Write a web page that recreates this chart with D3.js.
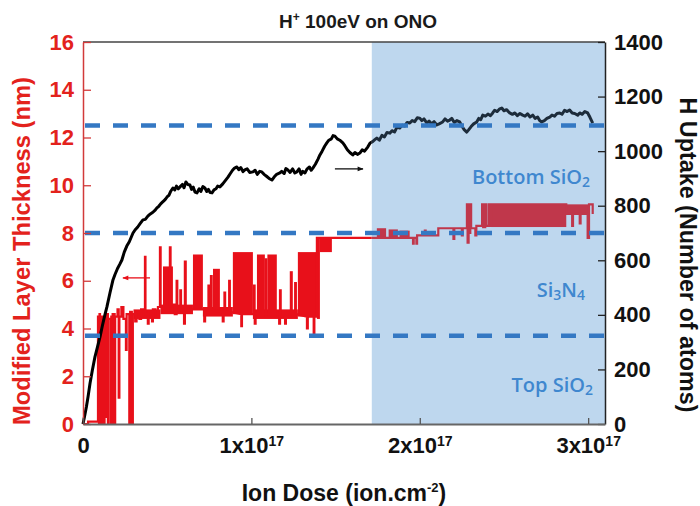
<!DOCTYPE html>
<html><head><meta charset="utf-8">
<script src="https://cdn.jsdelivr.net/npm/d3@7"></script>
<style>body{margin:0;background:#fff}svg{display:block}</style>
</head><body><svg id="c" width="700" height="506"></svg>
<script>
// ---------- data ----------
const doseTicks = [0, 1, 2, 3];                // x 10^17 ion/cm2
const thickTicks = [0, 2, 4, 6, 8, 10, 12, 14, 16]; // nm
const atomTicks = [0, 200, 400, 600, 800, 1000, 1200, 1400];
const layerBounds = [12.5, 8, 3.7];            // nm, dashed interfaces
const shadeStart = 1.715;                      // x 10^17

// H uptake (number of atoms) vs dose
const hUptake = [
[0,0],[0.01,30],[0.02,62],[0.03,100],[0.042,150],[0.055,195],[0.071,246],[0.085,280],[0.101,319],[0.115,360],[0.13,400],[0.142,429],[0.16,480],[0.178,528],[0.19,548],[0.205,570],[0.218,585],[0.231,601],[0.245,630],[0.26,652],[0.275,668],[0.297,700],[0.31,712],[0.325,722],[0.34,735],[0.356,748],[0.37,750],[0.385,762],[0.40,770],[0.415,776],[0.43,785],[0.439,792],[0.45,798],[0.46,806],[0.47,812],[0.48,818],[0.49,824],[0.499,832],[0.51,838],[0.52,852],[0.534,865],[0.545,858],[0.555,872],[0.566,862],[0.576,869],[0.59,878],[0.6,866],[0.611,887],[0.622,878],[0.635,876],[0.645,860],[0.655,868],[0.665,850],[0.677,847],[0.69,862],[0.70,852],[0.712,870],[0.724,865],[0.735,852],[0.745,860],[0.755,848],[0.766,847],[0.778,858],[0.79,862],[0.80,872],[0.813,869],[0.83,880],[0.845,892],[0.861,905],[0.875,918],[0.888,930],[0.9,938],[0.914,942],[0.925,932],[0.937,940],[0.95,925],[0.961,931],[0.975,935],[0.99,922],[1.009,924],[1.022,930],[1.035,915],[1.05,926],[1.062,924],[1.075,915],[1.09,908],[1.105,900],[1.122,894],[1.135,905],[1.15,915],[1.169,920],[1.18,926],[1.195,918],[1.205,936],[1.217,931],[1.23,922],[1.245,935],[1.258,920],[1.27,924],[1.283,935],[1.295,915],[1.305,926],[1.318,920],[1.33,934],[1.345,942],[1.355,930],[1.365,938],[1.38,952],[1.395,970],[1.407,986],[1.42,1000],[1.435,1018],[1.448,1030],[1.46,1040],[1.475,1045],[1.485,1057],[1.496,1055],[1.51,1045],[1.525,1040],[1.543,1030],[1.555,1020],[1.57,1005],[1.585,995],[1.602,986],[1.615,995],[1.63,988],[1.644,993],[1.658,1005],[1.672,1000],[1.691,1015],[1.705,1030],[1.72,1035],[1.733,1042],[1.745,1048],[1.76,1040],[1.775,1058],[1.79,1052],[1.805,1068],[1.822,1066],[1.835,1075],[1.85,1070],[1.865,1088],[1.881,1085],[1.895,1095],[1.91,1092],[1.925,1105],[1.941,1103],[1.955,1112],[1.97,1108],[1.985,1122],[2.0,1121],[2.012,1112],[2.025,1118],[2.042,1103],[2.055,1110],[2.07,1100],[2.085,1108],[2.101,1096],[2.115,1100],[2.136,1107],[2.15,1118],[2.165,1110],[2.178,1114],[2.19,1120],[2.205,1105],[2.22,1112],[2.237,1107],[2.25,1092],[2.262,1080],[2.279,1070],[2.29,1078],[2.305,1090],[2.32,1100],[2.338,1107],[2.35,1120],[2.362,1115],[2.374,1132],[2.39,1128],[2.405,1136],[2.42,1130],[2.433,1140],[2.445,1150],[2.46,1145],[2.475,1155],[2.487,1158],[2.5,1148],[2.515,1152],[2.534,1140],[2.55,1135],[2.565,1140],[2.58,1130],[2.595,1138],[2.611,1132],[2.625,1128],[2.64,1137],[2.655,1125],[2.671,1132],[2.685,1120],[2.7,1125],[2.712,1112],[2.724,1107],[2.74,1112],[2.755,1120],[2.772,1125],[2.785,1132],[2.8,1128],[2.815,1138],[2.831,1140],[2.845,1135],[2.86,1150],[2.875,1145],[2.89,1151],[2.905,1140],[2.92,1138],[2.938,1132],[2.95,1140],[2.965,1135],[2.98,1145],[2.997,1140],[3.01,1125],[3.027,1103]
];

// Modified layer thickness (nm) vs dose: step trace
const thickTrace = [
[0,0],[0.03,0],[0.03,0.1],[0.089,0.1],[0.089,4.5],[0.095,4.5],[0.095,0],[0.098,0],[0.098,4.6],[0.101,4.6],[0.101,0],[0.104,0],[0.104,4.5],[0.108,4.5],[0.108,0],[0.111,0],[0.111,4.5],[0.113,4.5],[0.113,0],[0.116,0],[0.116,4.4],[0.125,4.4],[0.125,0],[0.128,0],[0.128,4.5],[0.137,4.5],[0.137,0.3],[0.14,0.3],[0.14,4.6],[0.148,4.6],[0.148,0],[0.151,0],[0.151,4.4],[0.165,4.4],[0.165,0],[0.168,0],[0.168,4.5],[0.172,4.5],[0.172,0],[0.176,0],[0.176,4.6],[0.188,4.6],[0.188,0],[0.191,0],[0.191,4.5],[0.205,4.5],[0.205,4.8],[0.212,4.8],[0.212,1.1],[0.216,1.1],[0.216,4.5],[0.228,4.5],[0.228,4.9],[0.24,4.9],[0.24,4.4],[0.255,4.4],[0.255,3.1],[0.259,3.1],[0.259,4.6],[0.275,4.6],[0.275,0],[0.28,0],[0.28,4.7],[0.29,4.7],[0.29,0],[0.296,0],[0.296,4.6],
[0.31,4.6],[0.31,4.3],[0.318,4.3],[0.318,4.7],[0.335,4.7],[0.335,4.4],[0.345,4.4],[0.345,4.8],[0.368,4.8],[0.368,7.0],[0.371,7.0],[0.371,4.6],[0.385,4.6],[0.385,4.2],[0.39,4.2],[0.39,4.7],[0.41,4.7],[0.41,4.3],[0.415,4.3],[0.415,4.8],[0.43,4.8],[0.43,4.5],[0.445,4.5],[0.445,4.9],[0.457,4.9],[0.457,7.4],[0.461,7.4],[0.461,4.9],[0.516,4.9],[0.516,7.4],[0.52,7.4],[0.52,5.0],[0.545,5.0],[0.545,4.6],[0.556,4.6],[0.556,6.0],[0.56,6.0],[0.56,4.9],[0.578,4.9],[0.578,5.6],[0.582,5.6],[0.582,4.9],[0.6,4.9],[0.6,4.2],[0.605,4.2],[0.605,6.8],[0.61,6.8],[0.61,4.8],[0.72,4.8],[0.72,4.3],[0.725,4.3],[0.725,4.8],[0.745,4.8],[0.745,5.8],[0.749,5.8],[0.749,4.8],[0.76,4.8],[0.76,6.2],[0.764,6.2],[0.764,4.8],[0.813,4.7],[0.83,4.7],[0.83,4.3],[0.835,4.3],[0.835,4.7],[0.84,4.7],[0.84,5.5],[0.844,5.5],[0.844,4.7],[0.868,4.7],[0.868,6.0],[0.872,6.0],[0.872,4.7],[0.94,4.6],[0.94,4.1],[0.944,4.1],[0.944,4.6],[1.015,4.6],[1.015,5.8],[1.019,5.8],[1.019,4.6],[1.02,4.6],[1.02,4.2],[1.025,4.2],[1.025,4.6],[1.085,4.6],[1.085,6.9],[1.089,6.9],[1.089,4.6],[1.165,4.6],[1.165,4.2],[1.17,4.2],[1.17,5.6],[1.174,5.6],[1.174,4.5],[1.2,4.5],[1.2,4.2],[1.205,4.2],[1.205,4.6],[1.26,4.6],[1.26,5.9],[1.264,5.9],[1.264,4.6],[1.33,4.5],[1.33,4.0],[1.335,4.0],[1.335,4.5],[1.37,4.5],[1.37,3.8],[1.374,3.8],[1.374,4.5],[1.389,4.5],[1.389,7.8],[1.715,7.8],
[1.745,7.8],[1.94,7.8],[1.96,7.8],[1.96,7.55],[1.964,7.55],[1.964,7.8],[1.98,7.8],[1.98,7.55],[1.984,7.55],[1.984,7.9],[2.03,7.9],[2.03,8.1],[2.035,8.1],[2.035,7.9],[2.11,7.9],[2.11,8.2],[2.2,8.2],[2.2,7.75],[2.205,7.75],[2.205,8.2],[2.25,8.2],[2.25,7.9],[2.255,7.9],[2.255,8.2],[2.28,8.2],[2.28,9.2],[2.284,9.2],[2.284,7.6],[2.29,7.6],[2.29,9.2],[2.294,9.2],[2.294,8.0],[2.3,8.0],[2.3,9.2],[2.305,9.2],[2.305,8.2],[2.33,8.2],[2.33,7.9],[2.336,7.9],[2.336,8.3],[2.37,8.3],[2.37,9.2],[2.395,9.2],[2.395,8.3],[2.41,8.3],[2.41,9.2],[2.415,9.2],[2.415,8.3],[2.425,8.3],[2.425,9.2],[2.87,9.2],[2.87,8.8],[2.905,8.8],[2.905,8.3],[2.91,8.3],[2.91,8.8],[2.95,8.8],[2.95,8.4],[2.955,8.4],[2.955,8.8],[2.997,8.8],[2.997,7.8],[3.005,7.8],[3.005,9.2],[3.027,9.2],[3.027,8.8]
];
// dense toggling ranges: [dose0, dose1, low nm, high nm]
const thickBlocks = [
[0.089,0.099,0,4.5],[0.105,0.11,0,4.5],
[0.3,0.46,4.4,4.8],[0.46,0.653,4.6,5.0],[0.712,0.89,4.5,4.9],[1.009,1.276,4.4,4.8],
[0.475,0.534,4.9,6.6],[0.653,0.712,4.8,7.1],[0.772,0.813,4.8,6.5],[0.89,1.009,4.6,7.2],[1.033,1.08,4.5,7.1],[1.095,1.151,4.5,7.1],[1.228,1.246,4.6,6.4],[1.276,1.389,4.5,7.2],[1.389,1.407,4.4,7.8],[1.407,1.478,7.2,7.8],
[1.745,1.80,7.8,8.2],[1.815,1.87,7.8,8.15],[1.88,1.94,7.8,8.1],[2.37,2.395,8.2,9.2],[2.425,2.87,8.25,9.2],[2.87,3.0,8.8,9.2]
];
// annotation arrows: [dose from, dose to, value]
const arrowH = [1.496, 1.663, 935];   // points to right axis
const arrowT = [0.398, 0.237, 6.12];  // points to left axis

// ---------- chart ----------
const svg = d3.select('#c');
const M = {l:83, r:605, t:42, b:424};
const x = d3.scaleLinear().domain([0, 3.1]).range([M.l, M.r]);
const yL = d3.scaleLinear().domain([0, 16]).range([M.b, M.t]);
const yR = d3.scaleLinear().domain([0, 1400]).range([M.b, M.t]);
const AR = "'Liberation Sans', Arial, sans-serif";
const CAL = "'Open Sans', 'Noto Sans', sans-serif";
const RED = "#e8101a", RED2 = "#c0374b", BLK = "#000", BLK2 = "#1d2c3b";
const SHADE = "#bed7ee", DASH = "#3478c3", TXTB = "#3f87cf";

const defs = svg.append('defs');
defs.append('clipPath').attr('id','cA').append('rect')
  .attr('x', 0).attr('y', 0).attr('width', x(shadeStart)).attr('height', 506);
defs.append('clipPath').attr('id','cB').append('rect')
  .attr('x', x(shadeStart)).attr('y', 0).attr('width', 700 - x(shadeStart)).attr('height', 506);
const mk = (id, col) => defs.append('marker').attr('id', id)
  .attr('viewBox','0 0 10 10').attr('refX', 9).attr('refY', 5)
  .attr('markerWidth', 7).attr('markerHeight', 6).attr('orient', 'auto')
  .attr('markerUnits','userSpaceOnUse')
  .append('path').attr('d','M0,1 L10,5 L0,9 Z').attr('fill', col);
mk('mB', '#111'); mk('mR', RED);

// shaded region
svg.append('rect').attr('x', x(shadeStart)).attr('y', M.t)
  .attr('width', M.r - x(shadeStart)).attr('height', M.b - M.t).attr('fill', SHADE);

const lineT = d3.line().x(d => x(d[0])).y(d => yL(d[1]));
const lineH = d3.line().x(d => x(d[0])).y(d => yR(d[1]));

function drawSeries(clip, rc, bc) {
  const g = svg.append('g').attr('clip-path', `url(#${clip})`);
  g.selectAll('rect.blk').data(thickBlocks).join('rect')
    .attr('x', d => x(d[0])).attr('y', d => yL(d[3]))
    .attr('width', d => x(d[1]) - x(d[0])).attr('height', d => yL(d[2]) - yL(d[3]))
    .attr('fill', rc);
  g.append('path').datum(thickTrace).attr('d', lineT)
    .attr('fill','none').attr('stroke', rc).attr('stroke-width', 2.2);
  g.append('path').datum(hUptake).attr('d', lineH)
    .attr('fill','none').attr('stroke', bc).attr('stroke-width', 3)
    .attr('stroke-linejoin','round');
}
drawSeries('cA', RED, BLK);
drawSeries('cB', RED2, BLK2);

// dashed interface lines
svg.selectAll('line.iface').data(layerBounds).join('line')
  .attr('x1', x(0) + 2).attr('x2', M.r)
  .attr('y1', d => yL(d)).attr('y2', d => yL(d))
  .attr('stroke', DASH).attr('stroke-width', 4.5).attr('stroke-dasharray', '15,13');

// arrows
svg.append('line').attr('x1', x(arrowH[0])).attr('x2', x(arrowH[1]))
  .attr('y1', yR(arrowH[2])).attr('y2', yR(arrowH[2]))
  .attr('stroke', '#111').attr('stroke-width', 1.3).attr('marker-end', 'url(#mB)');
svg.append('line').attr('x1', x(arrowT[0])).attr('x2', x(arrowT[1]))
  .attr('y1', yL(arrowT[2])).attr('y2', yL(arrowT[2]))
  .attr('stroke', RED).attr('stroke-width', 1.3).attr('marker-end', 'url(#mR)');

// frame top
svg.append('line').attr('x1', M.l).attr('x2', M.r).attr('y1', M.t).attr('y2', M.t)
  .attr('stroke', '#444').attr('stroke-width', 1.5);

// left axis
const gL = svg.append('g').attr('transform', `translate(${M.l},0)`)
  .call(d3.axisLeft(yL).tickValues(thickTicks).tickSize(-8).tickSizeOuter(0).tickPadding(9));
gL.select('.domain').attr('stroke', '#d23a3a').attr('stroke-width', 1.5);
gL.selectAll('.tick line').attr('stroke', '#d23a3a').attr('stroke-width', 1.3);
gL.selectAll('.tick text').attr('fill', '#e3221c').style('font', `bold 22px ${AR}`);

// right axis
const gR = svg.append('g').attr('transform', `translate(${M.r},0)`)
  .call(d3.axisRight(yR).tickValues(atomTicks).tickFormat(d3.format('d'))
    .tickSize(-7).tickSizeOuter(0).tickPadding(9));
gR.select('.domain').attr('stroke', '#222').attr('stroke-width', 1.5);
gR.selectAll('.tick line').attr('stroke', '#222').attr('stroke-width', 1.3);
gR.selectAll('.tick text').attr('fill', '#111').style('font', `bold 22px ${AR}`);

// bottom axis
const gB = svg.append('g').attr('transform', `translate(0,${M.b})`)
  .call(d3.axisBottom(x).tickValues(doseTicks).tickSize(-6).tickSizeOuter(0).tickPadding(13));
gB.select('.domain').attr('stroke', '#666').attr('stroke-width', 2);
gB.selectAll('.tick line').attr('stroke', '#555').attr('stroke-width', 1.3);
gB.selectAll('.tick text').attr('fill', '#111').style('font', `bold 22px ${AR}`)
  .each(function(d) {
    const t = d3.select(this); t.text(null);
    if (d === 0) { t.text('0'); return; }
    t.append('tspan').text(d + 'x10');
    t.append('tspan').attr('dy', '-0.45em').style('font-size', '14px').text('17');
  });

// fit a text element to a target length by adjusting its font size
function fit(sel, target) {
  const n = sel.node(); const len = n.getComputedTextLength();
  const fs = parseFloat(sel.style('font-size'));
  if (len > 0) sel.style('font-size', (fs * target / len).toFixed(2) + 'px');
}

// title
const tt = svg.append('text').attr('x', 358).attr('y', 28).attr('text-anchor','middle')
  .attr('fill', '#1a1a1a').style('font', `bold 19px ${AR}`);
tt.append('tspan').text('H');
tt.append('tspan').attr('dy', -7).style('font-size', '12px').text('+');
tt.append('tspan').attr('dy', 7).text(' 100eV on ONO');

// x label
const xl = svg.append('text').attr('x', 344).attr('y', 501).attr('text-anchor','middle')
  .attr('fill', '#111').style('font', `bold 23px ${AR}`);
xl.append('tspan').text('Ion Dose (ion.cm');
xl.append('tspan').attr('dy', -9).style('font-size', '13px').text('-2');
xl.append('tspan').attr('dy', 9).text(')');

// y labels
const ylL = svg.append('text').attr('transform', 'translate(30,251) rotate(-90)').attr('text-anchor','middle')
  .attr('fill', '#e3221c').style('font', `bold 23px ${AR}`).text('Modified Layer Thickness (nm)');
fit(ylL, 348);
const ylR = svg.append('text').attr('transform', 'translate(680,255) rotate(90)').attr('text-anchor','middle')
  .attr('fill', '#111').style('font', `bold 23px ${AR}`).text('H Uptake (Number of atoms)');
fit(ylR, 315);

// layer labels
function layerLabel(xr, y, parts) {
  const t = svg.append('text').attr('x', xr).attr('y', y).attr('text-anchor','end')
    .attr('fill', TXTB).style('font', `600 20px ${CAL}`);
  parts.forEach(p => {
    const s = t.append('tspan').text(p[0]);
    if (p[1]) s.style('font-size', '14px').attr('dy', 3);
    else if (p[2]) s.attr('dy', -3);
  });
}
layerLabel(590, 184, [["Bottom SiO"], ["2", true]]);
layerLabel(585, 297, [["Si"], ["3", true], ["N", false, true], ["4", true]]);
layerLabel(593, 392, [["Top SiO"], ["2", true]]);
</script></body></html>
